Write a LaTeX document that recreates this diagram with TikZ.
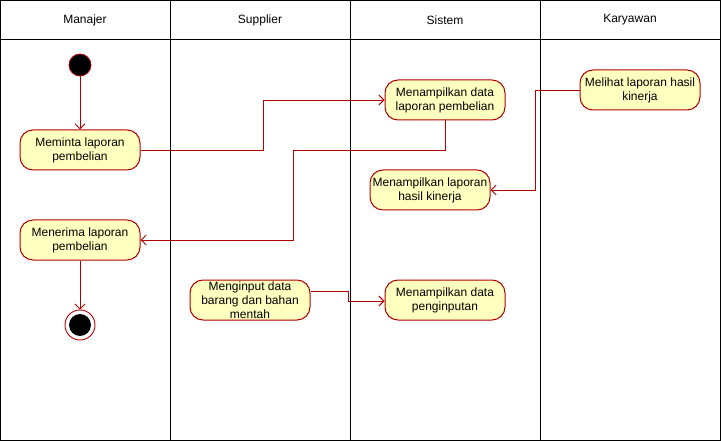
\documentclass[tikz,border=0pt]{standalone}
\usepackage{fontspec}
\setmainfont{Liberation Sans}
\usetikzlibrary{arrows.meta}
\definecolor{umlred}{HTML}{B20000}
\definecolor{umlfill}{HTML}{FFFFC0}
\tikzset{
  act/.style={draw=umlred, fill=umlfill, rounded corners=13pt, minimum width=120pt, minimum height=40pt, align=center, inner sep=1pt, font=\fontsize{12}{14}\selectfont, line width=1pt},
  flow/.style={draw=umlred, line width=0.9pt, -{Straight Barb[length=5pt,width=10pt]}},
  lane/.style={draw=black, line width=1pt},
  hdr/.style={font=\fontsize{12}{14}\selectfont}
}
\begin{document}
\begin{tikzpicture}[x=1pt,y=-1pt]
\useasboundingbox (0,0) rectangle (721,441);
\fill[white] (0,0) rectangle (721,441);
% lanes
\draw[lane] (0.5,0.5) rectangle (720,440);
\draw[lane] (0.5,40) -- (720,40);
\draw[lane] (170,0.5) -- (170,440);
\draw[lane] (350,0.5) -- (350,440);
\draw[lane] (540,0.5) -- (540,440);
\node[hdr] (h1) at (85,20) {Manajer};
\node[hdr] (h2) at (260,20) {Supplier};
\node[hdr] (h3) at (445,20) {Sistem};
\node[hdr] (h4) at (630,20) {Karyawan};
% nodes
\node[circle, fill=black, draw=umlred, line width=0.8pt, minimum size=22pt, inner sep=0pt] (start) at (80,65) {};
\node[act] (meminta) at (80,150) {Meminta laporan\\pembelian};
\node[act] (tampil) at (445,100) {Menampilkan data\\laporan pembelian};
\node[act] (melihat) at (640,90) {Melihat laporan hasil\\kinerja};
\node[act] (hasil) at (430,190) {Menampilkan laporan\\hasil kinerja};
\node[act] (menerima) at (80,240) {Menerima laporan\\pembelian};
\node[circle, fill=white, draw=umlred, line width=0.9pt, minimum size=30pt, inner sep=0pt] (end) at (80,325) {};
\node[circle, fill=black, minimum size=22pt, inner sep=0pt] (endin) at (80,325) {};
\node[act] (input) at (250,300) {Menginput data\\barang dan bahan\\mentah};
\node[act] (penginputan) at (445,300) {Menampilkan data\\penginputan};
% flows
\draw[flow] (start) -- (meminta);
\draw[flow] (meminta.east) -- (263,150) -- (263,100) -- (tampil.west);
\draw[flow] (tampil.south) -- (445,150) -- (293,150) -- (293,240) -- (menerima.east);
\draw[flow] (melihat.west) -- (535,90) -- (535,190) -- (hasil.east);
\draw[flow] (menerima) -- (end);
\draw[flow] (input.east |- 0,291) -- (348,291) -- (348,301) -- (penginputan.west |- 0,301);
\end{tikzpicture}
\end{document}
